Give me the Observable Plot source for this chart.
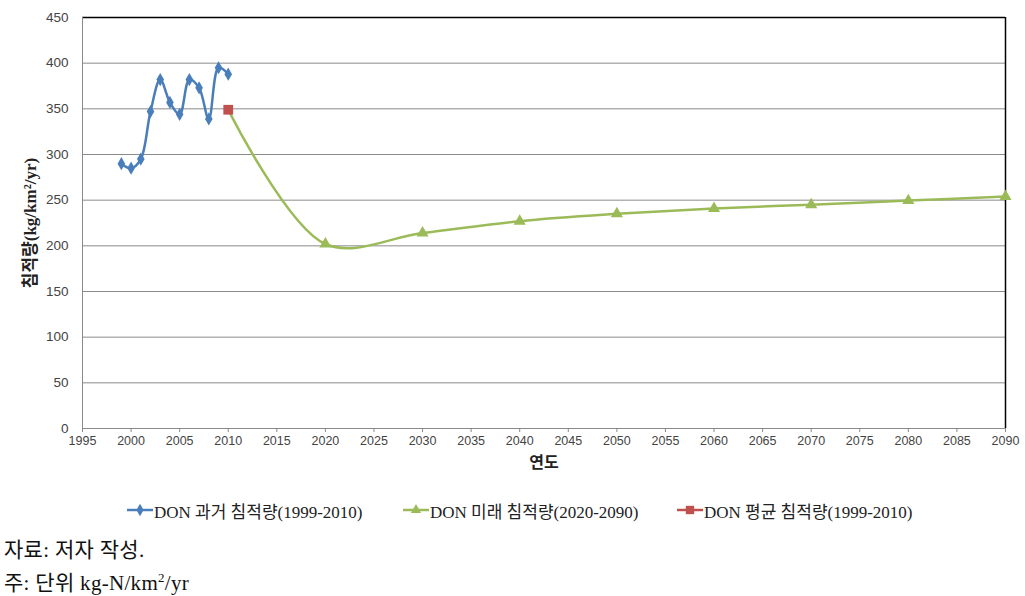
<!DOCTYPE html>
<html>
<head>
<meta charset="utf-8">
<script src="https://cdn.jsdelivr.net/npm/d3@7"></script>
<script src="https://cdn.jsdelivr.net/npm/@observablehq/plot@0.6"></script>
<style>
  body { margin: 0; background: #fff; width: 1025px; height: 596px; overflow: hidden; }
  #legend { position: absolute; left: 0; top: 498px; width: 1025px; height: 24px; font-family: "Liberation Serif", "Noto Sans CJK KR", serif; font-size: 17px; color: #222; }
  .item { position: absolute; top: 0; display: flex; align-items: center; height: 24px; white-space: nowrap; }
  .item svg { margin-right: 1px; }
  #caption { position: absolute; left: 4px; top: 537px; font-family: "Liberation Serif", "Noto Sans CJK KR", serif; font-size: 21px; letter-spacing: 0.3px; color: #111; line-height: 27px; white-space: nowrap; }
</style>
</head>
<body>
<div id="chart"></div>
<div id="legend"></div>
<div id="caption"></div>
<script>
// ---- data ----
const pastYears  = [1999, 2000, 2001, 2002, 2003, 2004, 2005, 2006, 2007, 2008, 2009, 2010];
const pastValues = [290, 285, 295, 347, 382, 357, 344, 382, 373, 339, 395, 388];
const futureYears  = [2010, 2020, 2030, 2040, 2050, 2060, 2070, 2080, 2090];
const futureValues = [349, 202, 214, 227, 235, 241, 245, 249.5, 254];
const avgYears  = [2010];
const avgValues = [349];
const xTicks = d3.range(1995, 2091, 5);
const yTicks = d3.range(0, 451, 50);
const seriesNames = ["DON 과거 침적량(1999-2010)", "DON 미래 침적량(2020-2090)", "DON 평균 침적량(1999-2010)"];
const colors = ["#4a7ebb", "#9bbb59", "#c0504d"];
const yLabel = "침적량(kg/km²/yr)";
const xLabel = "연도";

const past = pastYears.map((x, i) => ({x, y: pastValues[i]}));
const future = futureYears.map((x, i) => ({x, y: futureValues[i]}));
const avg = avgYears.map((x, i) => ({x, y: avgValues[i]}));

const chart = Plot.plot({
  width: 1025,
  height: 480,
  marginLeft: 82,
  marginRight: 20,
  marginTop: 17,
  marginBottom: 52,
  style: {fontFamily: "'Liberation Sans', sans-serif", background: "#fff"},
  x: {domain: [1995, 2090]},
  y: {domain: [0, 450]},
  marks: [
    Plot.ruleY(yTicks.filter(d => d > 0 && d < 450), {stroke: "#8a8a8a", strokeWidth: 1}),
    Plot.ruleY([450], {stroke: "#000", strokeWidth: 1.5}),
    Plot.ruleX([2090], {stroke: "#000", strokeWidth: 1.5}),
    Plot.ruleX([1995], {stroke: "#8a8a8a"}),
    Plot.ruleY([0], {stroke: "#8a8a8a"}),
    Plot.axisY({ticks: yTicks, tickSize: 0, tickPadding: 14, label: null, fontSize: 13.5, fill: "#444"}),
    Plot.axisX({ticks: xTicks, tickSize: 4, tickPadding: 4, tickFormat: "d", label: null, fontSize: 12.5, fill: "#444", stroke: "#8a8a8a"}),
    Plot.text([yLabel], {frameAnchor: "left", rotate: -90, dx: -52, textAnchor: "middle", text: d => d, fontSize: 17, fontWeight: "bold", fill: "#222", fontFamily: "'Liberation Serif', 'Noto Sans CJK KR', serif"}),
    Plot.text([xLabel], {frameAnchor: "bottom", dy: 39, text: d => d, fontSize: 16, fontWeight: "bold", fill: "#222", fontFamily: "'Noto Sans CJK KR', sans-serif"}),
    Plot.line(future, {x: "x", y: "y", stroke: colors[1], strokeWidth: 2.5, curve: "catmull-rom"}),
    Plot.dot(future.slice(1), {x: "x", y: "y", symbol: "triangle", fill: colors[1], r: 4.5}),
    Plot.line(past, {x: "x", y: "y", stroke: colors[0], strokeWidth: 2.5, curve: "catmull-rom"}),
    Plot.dot(past, {x: "x", y: "y", symbol: "diamond", fill: colors[0], r: 4}),
    Plot.dot(avg, {x: "x", y: "y", symbol: "square", fill: colors[2], r: 5.5})
  ]
});
document.getElementById("chart").appendChild(chart);

// legend
const legend = document.getElementById("legend");
const lefts = [127, 403, 677];
const syms = [d3.symbolDiamond, d3.symbolTriangle, d3.symbolSquare];
seriesNames.forEach((name, i) => {
  const div = document.createElement("div");
  div.className = "item";
  div.style.left = lefts[i] + "px";
  const s = d3.create("svg").attr("width", 26).attr("height", 14);
  s.append("line").attr("x1", 0).attr("x2", 26).attr("y1", 7).attr("y2", 7).attr("stroke", colors[i]).attr("stroke-width", 2.5);
  s.append("path").attr("transform", "translate(13,7)")
    .attr("d", d3.symbol(syms[i], i === 2 ? 70 : 45)())
    .attr("fill", colors[i]);
  div.appendChild(s.node());
  const t = document.createElement("span");
  t.textContent = name;
  div.appendChild(t);
  legend.appendChild(div);
});

document.getElementById("caption").innerHTML = "자료: 저자 작성.<br>주: 단위 kg-N/km<sup style='font-size:13px'>2</sup>/yr";
</script>
</body>
</html>
